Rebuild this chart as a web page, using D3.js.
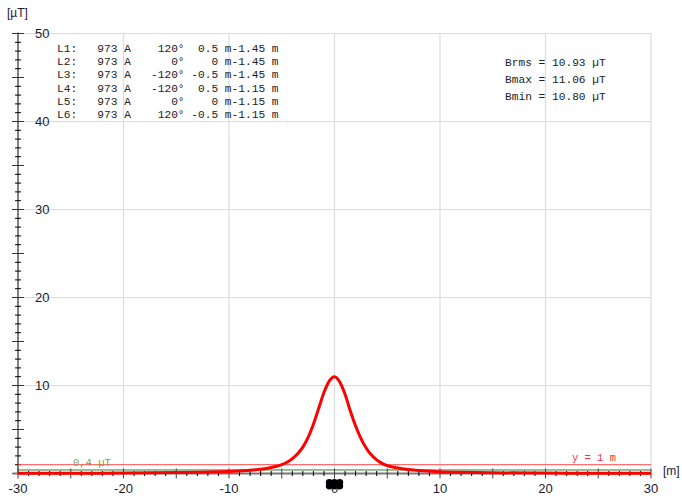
<!DOCTYPE html>
<html>
<head>
<meta charset="utf-8">
<script src="https://cdn.jsdelivr.net/npm/d3@7"></script>
<style>
  body { margin: 0; background: #fff; }
  svg { display: block; }
  .mono { font-family: "Liberation Mono", "DejaVu Sans Mono", monospace; white-space: pre; }
</style>
</head>
<body>
<div class="chart"></div>
<script>
// field profile at y = 1 m
var xs = [-30, -25, -20, -15, -12, -10, -8, -7, -6, -5.5, -5, -4.5, -4, -3.5, -3, -2.5, -2, -1.5, -1, -0.5, 0,
          0.5, 1, 1.5, 2, 2.5, 3, 3.5, 4, 4.5, 5, 5.5, 6, 7, 8, 10, 12, 15, 20, 25, 30];
var bs = [0.02, 0.03, 0.05, 0.1, 0.16, 0.24, 0.36, 0.48, 0.68, 0.82, 1.0, 1.28, 1.68, 2.25, 3.0, 4.1, 5.6, 7.4, 9.2, 10.5, 11.0,
          10.4, 9.0, 7.1, 5.4, 4.0, 2.9, 2.1, 1.55, 1.15, 0.9, 0.74, 0.62, 0.45, 0.33, 0.2, 0.13, 0.08, 0.05, 0.03, 0.02];

var legendLines = [
  'L1:   973 A    120°  0.5 m-1.45 m',
  'L2:   973 A      0°    0 m-1.45 m',
  'L3:   973 A   -120° -0.5 m-1.45 m',
  'L4:   973 A   -120°  0.5 m-1.15 m',
  'L5:   973 A      0°    0 m-1.15 m',
  'L6:   973 A    120° -0.5 m-1.15 m'
];
var statLines = ['Brms = 10.93 µT', 'Bmax = 11.06 µT', 'Bmin = 10.80 µT'];

var condX = [0.5, 0, -0.5, 0.5, 0, -0.5];
var condY = [-1.45, -1.45, -1.45, -1.15, -1.15, -1.15];

var limitValue = 0.4;   // green line
var heightValue = 1;    // red thin line
var xTicks = [-30, -20, -10, 0, 10, 20, 30];
var yTicks = [10, 20, 30, 40, 50];

var W = 682, H = 498;
var x = d3.scaleLinear().domain([-30, 30]).range([18, 651]);
var y = d3.scaleLinear().domain([0, 50]).range([473.5, 33.5]);
var depth = d3.scaleLinear().domain([-1.15, -1.45]).range([482.5, 486]);

var svg = d3.select('.chart').append('svg')
  .attr('width', W).attr('height', H)
  .style('font-family', '"Liberation Sans", Arial, sans-serif');

// grid
svg.append('g').selectAll('line').data(xTicks.filter(d => d > -30)).enter().append('line')
  .attr('x1', d => x(d)).attr('x2', d => x(d))
  .attr('y1', y(50)).attr('y2', y(0))
  .attr('stroke', '#dcdcdc').attr('stroke-width', 1.2);
svg.append('g').selectAll('line').data(yTicks).enter().append('line')
  .attr('x1', x(-30)).attr('x2', x(30))
  .attr('y1', d => y(d)).attr('y2', d => y(d))
  .attr('stroke', '#dcdcdc').attr('stroke-width', 1.2);

// y axis
var yAxis = svg.append('g');
yAxis.append('line').attr('x1', x(-30)).attr('x2', x(-30))
  .attr('y1', y(50) - 1).attr('y2', y(0))
  .attr('stroke', '#000');
yAxis.selectAll('.tk').data(d3.range(0, 51, 1)).enter().append('line')
  .attr('x1', d => x(-30) - (d % 5 === 0 ? 6 : 3))
  .attr('x2', d => x(-30) + (d % 5 === 0 ? 6 : 3))
  .attr('y1', d => y(d)).attr('y2', d => y(d))
  .attr('stroke', d => d % 5 === 0 ? '#333' : '#000');
yAxis.selectAll('text').data(yTicks).enter().append('text')
  .attr('x', x(-30) + 17).attr('y', d => y(d)).attr('dy', '0.35em')
  .attr('font-size', 13).attr('fill', '#1a1a33')
  .text(d => d);
svg.append('text').attr('x', 7).attr('y', 17).attr('font-size', 12).attr('fill', '#1a1a33').text('[µT]');

// reference lines
svg.append('line').attr('x1', x(-30)).attr('x2', x(30))
  .attr('y1', y(heightValue)).attr('y2', y(heightValue))
  .attr('stroke', '#ff4a4a').attr('stroke-width', 1);
svg.append('line').attr('x1', x(-30)).attr('x2', x(30))
  .attr('y1', y(limitValue)).attr('y2', y(limitValue))
  .attr('stroke', '#2e7d2e').attr('stroke-width', 1);
svg.append('text').attr('class', 'mono').attr('x', 73).attr('y', y(heightValue) + 1)
  .attr('font-size', 10.5).attr('fill', '#8aa030').text('0,4 µT');
svg.append('text').attr('class', 'mono').attr('x', 616).attr('y', y(heightValue) - 4)
  .attr('text-anchor', 'end').attr('font-size', 10.5).attr('fill', '#ff3030').text('y = 1 m');

// x axis
var xAxis = svg.append('g');
xAxis.append('line').attr('x1', x(-30) - 5).attr('x2', x(30))
  .attr('y1', y(0)).attr('y2', y(0))
  .attr('stroke', '#777').attr('stroke-width', 2);
xAxis.selectAll('.tk').data(d3.range(-30, 31, 1)).enter().append('line')
  .attr('x1', d => x(d)).attr('x2', d => x(d))
  .attr('y1', d => y(0) - (d % 5 === 0 ? 5 : 2.5))
  .attr('y2', d => y(0) + (d % 5 === 0 ? 5 : 2.5))
  .attr('stroke', d => d % 5 === 0 ? '#444' : '#000');
xAxis.selectAll('text').data(xTicks).enter().append('text')
  .attr('x', d => x(d)).attr('y', 493)
  .attr('text-anchor', 'middle').attr('font-size', 13).attr('fill', '#1a1a33')
  .text(d => d);
svg.append('text').attr('x', 663).attr('y', 475).attr('font-size', 12).attr('fill', '#1a1a33').text('[m]');

// field curve
var line = d3.line().x((d, i) => x(xs[i])).y(d => y(d)).curve(d3.curveMonotoneX);
svg.append('path').datum(bs)
  .attr('d', line)
  .attr('fill', 'none').attr('stroke', '#ff0000').attr('stroke-width', 3);

// conductors
svg.append('g').selectAll('circle').data(condX).enter().append('circle')
  .attr('cx', d => x(d)).attr('cy', (d, i) => depth(condY[i]))
  .attr('r', 3.4).attr('fill', '#000');

// legend text
svg.append('g').selectAll('text').data(legendLines).enter().append('text')
  .attr('class', 'mono').attr('x', 57).attr('y', (d, i) => 52 + i * 13.2)
  .attr('font-size', 11.2).attr('fill', '#222')
  .text(d => d);
svg.append('g').selectAll('text').data(statLines).enter().append('text')
  .attr('class', 'mono').attr('x', 505).attr('y', (d, i) => 66 + i * 17)
  .attr('font-size', 11.2).attr('fill', '#222')
  .text(d => d);
</script>
</body>
</html>
